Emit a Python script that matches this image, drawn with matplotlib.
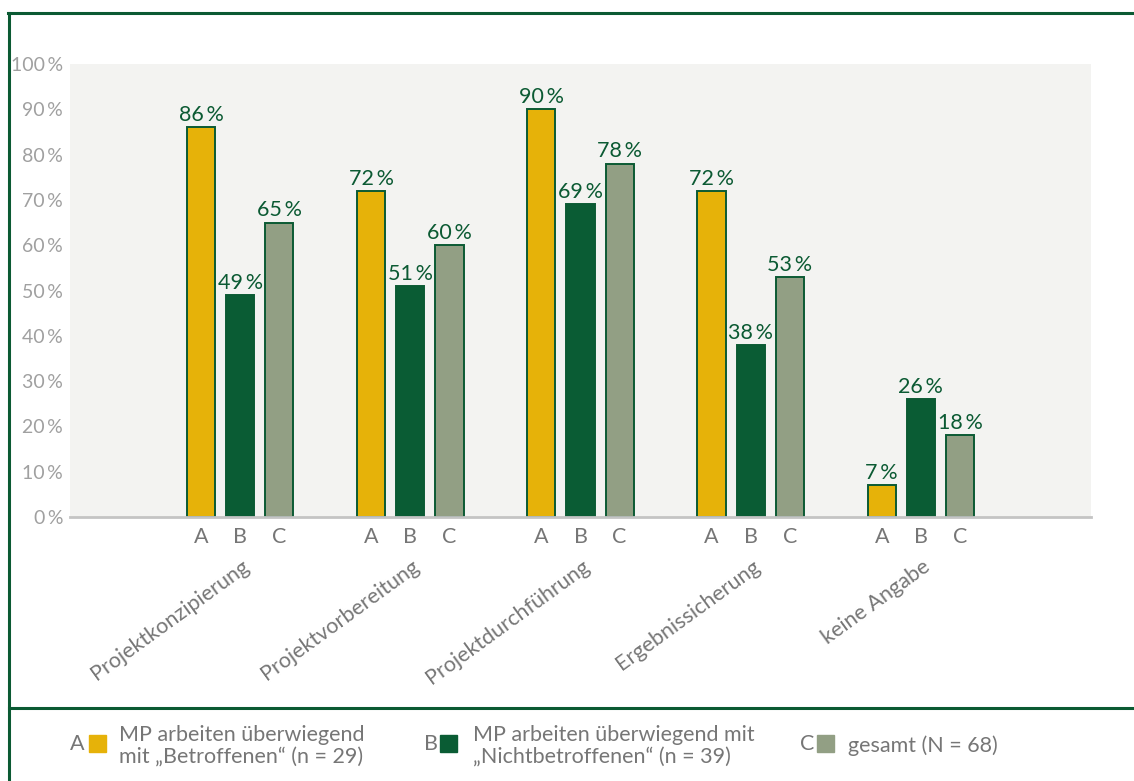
import matplotlib
matplotlib.use("Agg")
import matplotlib.pyplot as plt
from matplotlib.patches import Rectangle
from matplotlib.lines import Line2D
import numpy as np

plt.rcParams['font.family'] = ['Lato', 'DejaVu Sans']

# Phasen und Anteile je Gruppe (in %)
kategorien = ["Projektkonzipierung", "Projektvorbereitung", "Projektdurchführung",
              "Ergebnissicherung", "keine Angabe"]
gruppe_a = [86, 72, 90, 72, 7]
gruppe_b = [49, 51, 69, 38, 26]
gruppe_c = [65, 60, 78, 53, 18]
kuerzel = ["A", "B", "C"]
legenden_text = ["MP arbeiten überwiegend\nmit „Betroffenen“ (n = 29)",
                 "MP arbeiten überwiegend mit\n„Nichtbetroffenen“ (n = 39)",
                 "gesamt (N = 68)"]
farben = ["#e6b209", "#0a5c34", "#929f84"]

GRUEN = "#0b5a33"
GRAU_TXT = "#767676"
FS = 15.5
W, H = 1134, 781

fig = plt.figure(figsize=(W / 100, H / 100), dpi=100)
ax = fig.add_axes([70 / W, 1 - 517 / H, 1021 / W, (517 - 64) / H])
ax.set_facecolor("#f3f3f1")

x = np.arange(1, len(kategorien) + 1)
breite = 0.165
abstand = 0.23
serien = [gruppe_a, gruppe_b, gruppe_c]

tick_pos, tick_lab = [], []
for i, werte in enumerate(serien):
    pos = x + (i - 1) * abstand
    ax.bar(pos, werte, width=breite, color=farben[i], edgecolor=GRUEN,
           linewidth=1.4, zorder=3)
    for p, v in zip(pos, werte):
        ax.text(p, v + 0.5, f"{v}\u2009%", ha="center", va="bottom",
                fontsize=FS, color=GRUEN, zorder=4)
    tick_pos.extend(pos)
    tick_lab.extend([kuerzel[i]] * len(pos))

ax.set_xlim(0, 6)
ax.set_ylim(0, 100)
ax.set_yticks(range(0, 101, 10))
ax.set_yticklabels([f"{t}\u2009%" for t in range(0, 101, 10)])
ax.tick_params(axis="y", length=0, pad=5, labelsize=14, labelcolor="#a0a0a0")
ax.set_xticks(tick_pos)
ax.set_xticklabels(tick_lab)
ax.tick_params(axis="x", length=0, pad=7, labelsize=FS, labelcolor=GRAU_TXT)

for s in ["top", "right", "left"]:
    ax.spines[s].set_visible(False)
ax.spines["bottom"].set_color("#c4c4c4")
ax.spines["bottom"].set_linewidth(2)
ax.spines["bottom"].set_zorder(5)

# schräge Phasenbeschriftung
trans = ax.get_xaxis_transform()
for xi, name in zip(x, kategorien):
    ax.text(xi + 0.04, -0.105, name, transform=trans, rotation=36,
            rotation_mode="anchor", ha="right", va="center",
            fontsize=FS, color=GRAU_TXT)

# Rahmen
for line in [
    Line2D([8 / W, 1], [1 - 13 / H] * 2),
    Line2D([9 / W] * 2, [1 - 13 / H, 0]),
    Line2D([9 / W, 1], [1 - 708 / H] * 2),
]:
    line.set_color(GRUEN)
    line.set_linewidth(2.2)
    line.set_transform(fig.transFigure)
    fig.add_artist(line)

# Legende
leg_pos = [(70, 89, 119), (424, 440, 473), (800, 817, 848)]
for (lx, qx, tx), k, txt, f in zip(leg_pos, kuerzel, legenden_text, farben):
    fig.text(lx / W, 1 - 744 / H, k, ha="left", va="center",
             fontsize=FS, color=GRAU_TXT)
    fig.add_artist(Rectangle((qx / W, 1 - 752 / H), 17 / W, 17 / H,
                             transform=fig.transFigure, color=f))
    fig.text(tx / W, 1 - 746 / H, txt, ha="left", va="center",
             fontsize=FS, color=GRAU_TXT, linespacing=1.15)

fig.savefig("out.png", dpi=100)
